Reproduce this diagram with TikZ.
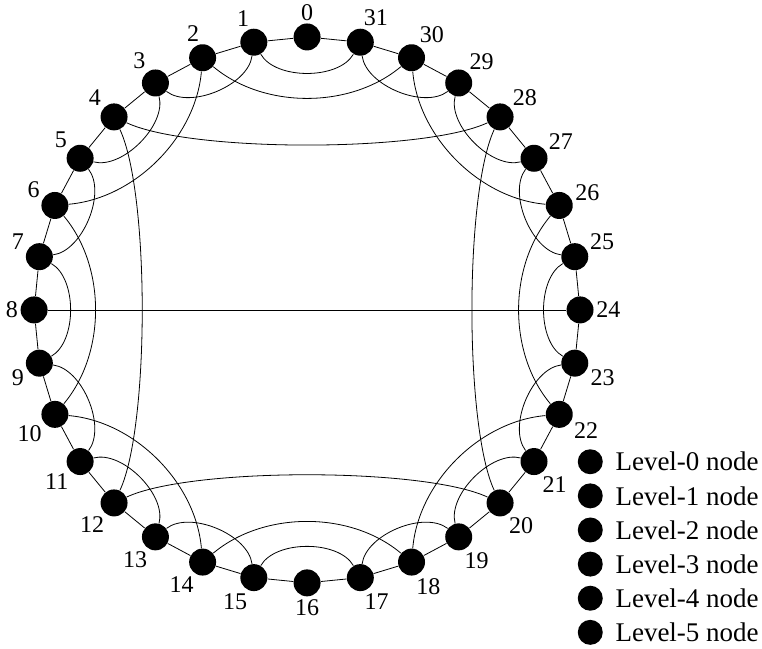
\documentclass[tikz,border=0pt]{standalone}
\usepackage{fontspec}
\setmainfont{Liberation Serif}
\usetikzlibrary{positioning}

\tikzset{
  dot/.style={circle, fill=black, minimum size=13.5pt, inner sep=0pt},
  num/.style={font=\fontsize{12}{13}\selectfont, inner sep=1pt, label distance=0pt},
  legend/.style={font=\fontsize{13.5}{15}\selectfont, inner sep=0pt},
}

\begin{document}
\begin{tikzpicture}
    \useasboundingbox (-5.40,-5.96) rectangle (8.00,5.45);

    % the 32 nodes, 0 on top, counting anticlockwise
    \foreach \i/\a in {0/90, 1/100, 2/95, 3/124, 4/141, 5/142, 6/157, 7/160,
                       8/180, 9/198, 10/219, 11/227, 12/237, 13/245, 14/242, 15/252,
                       16/270, 17/278, 18/280, 19/285, 20/299, 21/296, 22/333, 23/344,
                       24/0, 25/20, 26/11, 27/26, 28/41, 29/52, 30/65, 31/85}
        \node[dot, label={[num]\a:\i}] (n\i) at ({90+11.25*\i}:4.8) {};

    % ring
    \foreach \i in {0,...,31} {
        \pgfmathtruncatemacro\j{mod(\i+1,32)}
        \draw (n\i) -- (n\j);
    }
    % level-0 links
    \foreach \i in {1,3,...,31} {
        \pgfmathtruncatemacro\j{mod(\i+2,32)}
        \draw (n\i) to[bend left=60, looseness=0.82] (n\j);
    }
    % level-1 links
    \foreach \i in {2,6,...,30} {
        \pgfmathtruncatemacro\j{mod(\i+4,32)}
        \draw (n\i) to[bend left=40, looseness=0.9] (n\j);
    }
    % level-2 links
    \foreach \i in {4,12,20,28} {
        \pgfmathtruncatemacro\j{mod(\i+8,32)}
        \draw (n\i) to[bend left=25, looseness=0.5] (n\j);
    }
    % level-3 link
    \draw (n8) -- (n24);

    % key
    \foreach \k in {0,...,5} {
        \node[dot, minimum size=12.5pt] (key\k) at (4.98,{-2.67-0.6*\k}) {};
        \node[legend, right=6pt of key\k] (txt\k) {Level-\k\ node};
    }
\end{tikzpicture}
\end{document}
